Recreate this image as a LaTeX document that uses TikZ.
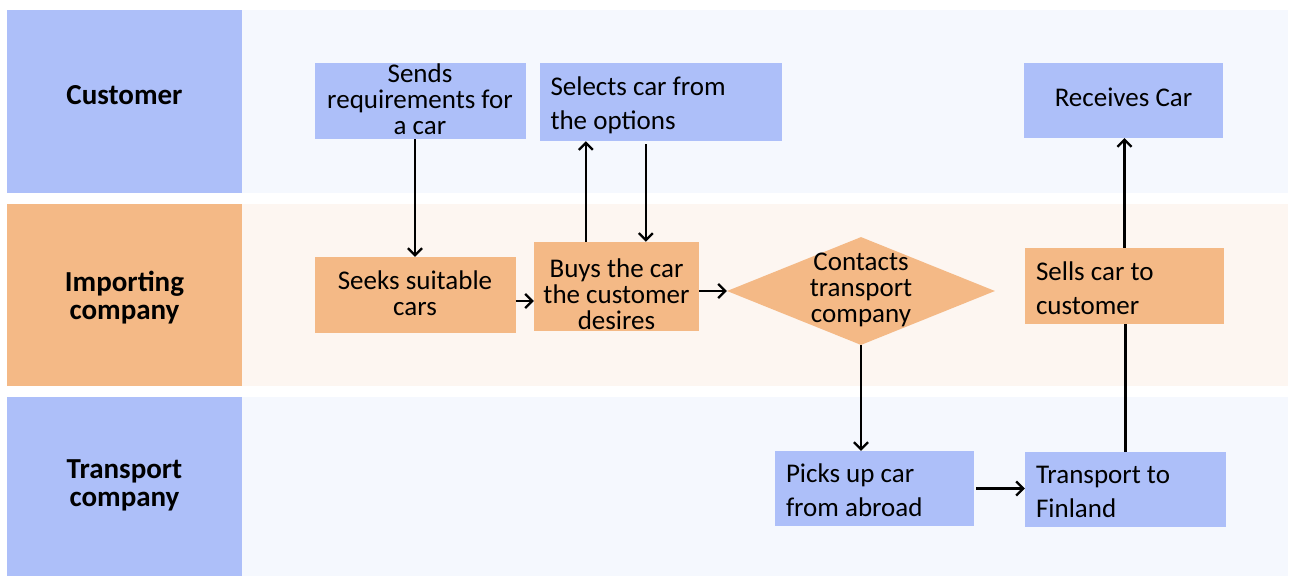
\documentclass[tikz,border=0pt]{standalone}
\usepackage{fontspec}
\setmainfont{Carlito}
\usetikzlibrary{shapes.geometric,arrows.meta}

\definecolor{headblue}{RGB}{173,191,249}
\definecolor{headorange}{RGB}{244,185,134}
\definecolor{laneblue}{RGB}{245,248,254}
\definecolor{laneorange}{RGB}{253,246,241}

\begin{document}
\begin{tikzpicture}[x=1pt,y=-1pt,
  lanehead/.style={inner sep=0pt, minimum width=235pt},
  headtext/.style={inner sep=0pt, align=center,
    font=\fontsize{29}{28}\selectfont\bfseries},
  box/.style={inner sep=0pt},
  bluebox/.style={box, fill=headblue},
  orangebox/.style={box, fill=headorange},
  ctext/.style={inner sep=0pt, align=center, font=\fontsize{27}{26}\selectfont},
  ltext/.style={inner sep=0pt, align=flush left, text width=#1,
    font=\fontsize{27}{34}\selectfont},
  arr/.style={line width=2.3pt, -{Straight Barb[length=7pt,width=14pt]}},
  link/.style={line width=2.3pt}
]
\useasboundingbox (0,0) rectangle (1291,576);
\fill[white] (0,0) rectangle (1291,576);

% swimlane backgrounds
\fill[laneblue]   (242,10)  rectangle (1288,193);
\fill[laneorange] (242,204) rectangle (1288,386);
\fill[laneblue]   (242,397) rectangle (1288,576);

% lane headers
\node[lanehead, fill=headblue,   minimum height=183pt] (hcust)  at (124.5,101.5) {};
\node[lanehead, fill=headorange, minimum height=182pt] (himp)   at (124.5,295)   {};
\node[lanehead, fill=headblue,   minimum height=179pt] (htrans) at (124.5,486.5) {};
\node[headtext] (hcustT)  at (124.5,95.5)  {Customer};
\node[headtext] (himpT)   at (124.5,298)   {Importing\\company};
\node[headtext] (htransT) at (124.5,485.5) {Transport\\company};

% customer lane
\node[bluebox, minimum width=211pt, minimum height=76pt] (sends) at (420,101) {};
\node[ctext] (sendsT) at (420,99) {Sends\\requirements for\\a car};
\node[bluebox, minimum width=242pt, minimum height=78pt] (selects) at (660.5,102) {};
\node[ltext=220pt] (selectsT) at (660.5,105.5) {Selects car from\\the options};
\node[bluebox, minimum width=199pt, minimum height=75pt] (receives) at (1123.5,100.5) {};
\node[ctext] (receivesT) at (1123.5,97.5) {Receives Car};

% importing company lane
\node[orangebox, minimum width=201pt, minimum height=76pt] (seeks) at (415,295) {};
\node[ctext] (seeksT) at (415,293) {Seeks suitable\\cars};
\node[orangebox, minimum width=165pt, minimum height=89pt] (buys) at (616.5,286.5) {};
\node[ctext] (buysT) at (616.5,294) {Buys the car\\the customer\\desires};
\node[diamond, fill=headorange, minimum width=268pt, minimum height=108pt,
  inner sep=0pt] (dia) at (861,291) {};
\node[ctext] (diaT) at (861,289.5) {Contacts\\transport\\company};
\node[orangebox, minimum width=199pt, minimum height=76pt] (sells) at (1124.5,286) {};
\node[ltext=177pt] (sellsT) at (1124.5,288) {Sells car to\\customer};

% transport company lane
\node[bluebox, minimum width=199pt, minimum height=75pt] (picks) at (874.5,488.5) {};
\node[ltext=177pt] (picksT) at (874.5,490) {Picks up car\\from abroad};
\node[bluebox, minimum width=201pt, minimum height=75pt] (finland) at (1125.5,489.5) {};
\node[ltext=179pt] (finlandT) at (1125.5,491.5) {Transport to\\Finland};

% connectors
\draw[arr] (seeks.north |- sends.south) -- (seeks.north);
\coordinate (bup) at ([xshift=52pt]buys.north west);
\draw[arr] (bup) -- (bup |- selects.south);
\coordinate (bdown) at ([xshift=112pt]buys.north west);
\draw[arr] ([yshift=-3pt]bdown |- selects.south) -- (bdown);
\coordinate (sk) at ([yshift=-6pt]seeks.east);
\draw[arr] (sk) -- (sk -| buys.west);
\draw[arr] (buys.east |- dia.west) -- (dia.west);
\draw[arr] (dia.south) -- (dia.south |- picks.north);
\draw[arr] ([xshift=2pt]picks.east) -- (picks.east -| finland.west);
\draw[link] (finland.north) -- (finland.north |- sells.south);
\draw[arr] (sells.north) -- (sells.north |- receives.south);
\end{tikzpicture}
\end{document}
